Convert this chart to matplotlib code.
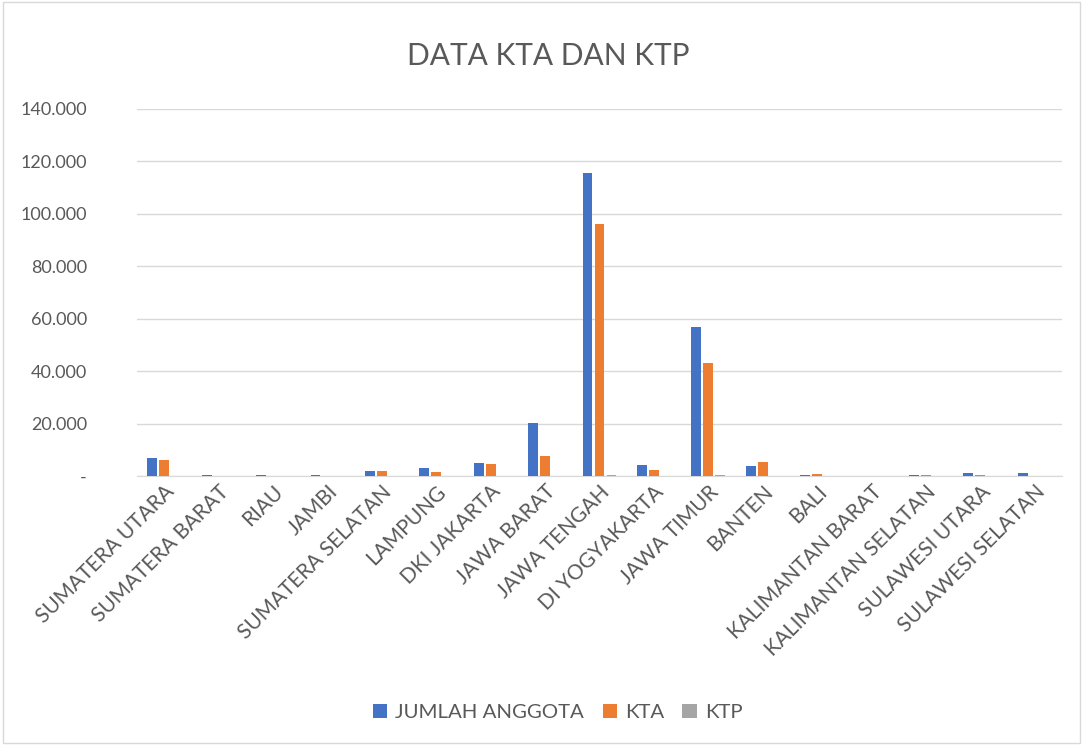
import numpy as np
import matplotlib.pyplot as plt
from matplotlib.patches import Rectangle
from matplotlib.ticker import FuncFormatter

provinsi = ['SUMATERA UTARA', 'SUMATERA BARAT', 'RIAU', 'JAMBI', 'SUMATERA SELATAN',
            'LAMPUNG', 'DKI JAKARTA', 'JAWA BARAT', 'JAWA TENGAH', 'DI YOGYAKARTA',
            'JAWA TIMUR', 'BANTEN', 'BALI', 'KALIMANTAN BARAT', 'KALIMANTAN SELATAN',
            'SULAWESI UTARA', 'SULAWESI SELATAN']
jumlah_anggota = [6800, 300, 300, 500, 1900, 3000, 4800, 20300, 115600, 4200,
                  56800, 4000, 300, 200, 300, 1000, 1100]
kta = [6100, 100, 100, 100, 1800, 1500, 4700, 7500, 96100, 2500,
       43200, 5500, 600, 100, 500, 300, 100]
ktp = [50, 50, 50, 50, 50, 50, 50, 50, 300, 50, 300, 50, 50, 50, 50, 50, 50]

plt.rcParams['font.family'] = ['Lato', 'DejaVu Sans']

fig = plt.figure(figsize=(10.83, 7.45), dpi=100)
ax = fig.add_axes([0.1265, 0.361, 0.854, 0.4927])

x = np.arange(len(provinsi))
w = 0.18
ax.bar(x - 0.22, jumlah_anggota, w, color='#4472c4', label='JUMLAH ANGGOTA', zorder=3)
ax.bar(x, kta, w, color='#ed7d31', label='KTA', zorder=3)
ax.bar(x + 0.22, ktp, w, color='#a5a5a5', label='KTP', zorder=3)

ax.set_xlim(-0.5, len(provinsi) - 0.5)
ax.set_ylim(0, 140000)
ax.set_yticks(range(0, 140001, 20000))
ax.yaxis.set_major_formatter(FuncFormatter(
    lambda v, p: '-' if v == 0 else f'{int(v):,}'.replace(',', '.')))
ax.grid(axis='y', color='#d9d9d9', linewidth=1, zorder=0)
for s in ['top', 'right', 'left']:
    ax.spines[s].set_visible(False)
ax.spines['bottom'].set_color('#d9d9d9')
ax.tick_params(axis='both', length=0, colors='#595959')
ax.tick_params(axis='y', labelsize=13, pad=36)
ax.tick_params(axis='x', labelsize=15, pad=4)
ax.set_xticks(x)
ax.set_xticklabels(provinsi, rotation=45, ha='right', rotation_mode='anchor')

fig.text(0.506, 0.925, 'DATA KTA DAN KTP', ha='center', va='center',
         fontsize=21.5, color='#595959')
fig.legend(loc='center', bbox_to_anchor=(0.515, 0.044), ncol=3, frameon=False,
           fontsize=14.7, handlelength=0.7, handleheight=0.7, columnspacing=0.9,
           handletextpad=0.4, labelcolor='#595959')

fig.patches.append(Rectangle((0.003, 0.003), 0.994, 0.994, transform=fig.transFigure,
                             fill=False, edgecolor='#d9d9d9', linewidth=1))

fig.savefig('out.png', dpi=100)
